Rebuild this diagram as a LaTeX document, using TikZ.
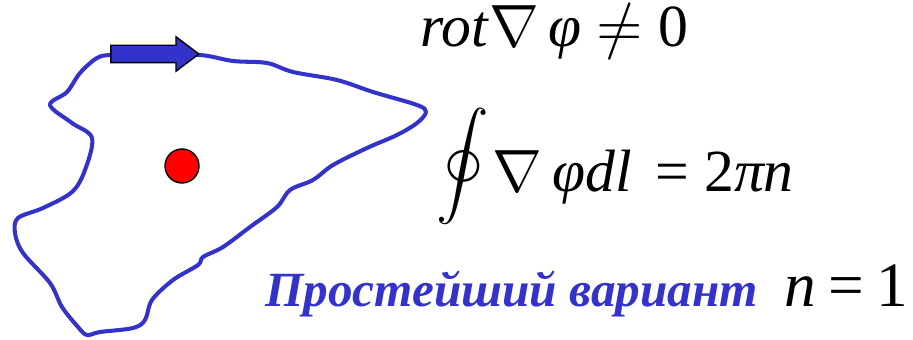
\documentclass[tikz,border=0pt]{standalone}
\usepackage{unicode-math}
\setmainfont{Liberation Serif}
\usepackage{tikz}
\usetikzlibrary{shapes.arrows}
\definecolor{loopblue}{RGB}{51,51,204}

\begin{document}
\begin{tikzpicture}[x=0.02cm,y=-0.02cm]
\tikzset{
  formula/.style={anchor=base west,inner sep=0pt,font=\fontsize{34}{38}\selectfont},
  caption/.style={anchor=base west,inner sep=0pt,text=loopblue,font=\fontsize{28}{32}\selectfont\bfseries\itshape}
}
\useasboundingbox (0,0) rectangle (913,340);
% contour around the vortex
\draw[loopblue,line width=2.3pt,line join=round] plot[smooth cycle,tension=0.55] coordinates {
  (200,55) (233,61) (267,63) (293,72) (337,80) (373,92) (417,105) (426,112)
  (417,123) (397,135) (367,148) (333,165) (313,180) (290,190) (277,207)
  (250,227) (223,247) (203,257) (198,265) (173,280) (152,300) (145,320)
  (133,328) (100,332) (87,335) (78,327) (62,307) (50,283) (23,253) (15,233)
  (18,218) (43,208) (72,192) (85,170) (92,138) (72,123) (50,105) (67,92)
  (80,73) (97,58) (112,55) (150,55)};
% direction of the circulation
\node[single arrow,draw=black,fill=loopblue,line width=0.8pt,inner sep=0.16cm,
  single arrow head extend=0.17cm,single arrow tip angle=74,
  minimum height=1.76cm,anchor=tip] (dir) at (200,54) {};
% vortex core
\node[circle,draw=black,fill=red,line width=0.8pt,minimum size=0.68cm,inner sep=0pt] (core) at (182,166) {};
% formulas
\node[formula] (rot) at (420,47) {\textit{rot}$\nabla$\,\textit{φ} $\neq$ 0};
\node[formula] (circ) at (436,192) {\raisebox{7pt}{\scalebox{0.88}{$\displaystyle\oint$}}\hspace{2pt}$\nabla$\,\textit{φdl}\hspace{0.15em} = 2\textit{πn}};
\node[caption] (simple) at (265,307) {Простейший вариант};
\node[formula,font=\fontsize{36}{40}\selectfont] (wind) at (784,307) {\textit{n}\hspace{0.2em}=\hspace{0.2em}1};
\end{tikzpicture}
\end{document}
